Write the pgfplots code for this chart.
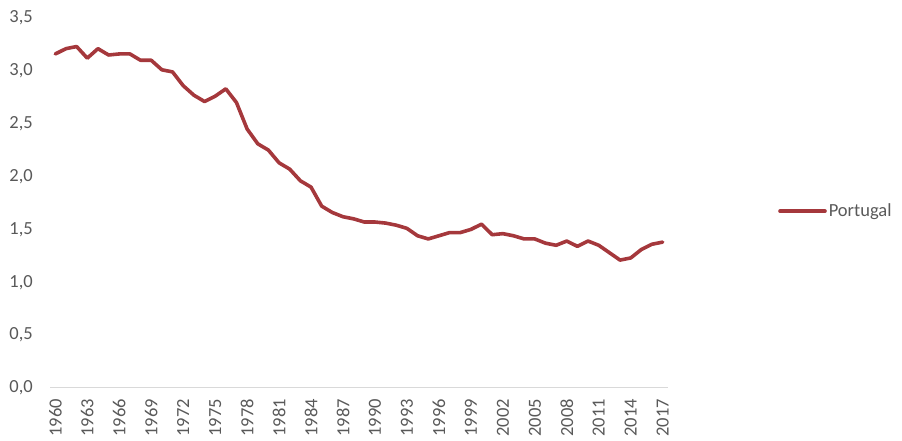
\documentclass[border=0pt]{standalone}
\usepackage{pgfplots}
\pgfplotsset{compat=1.18}
\usepackage{fontspec}
\setmainfont{Carlito}

\definecolor{linered}{HTML}{A5383C}
\definecolor{labelgray}{HTML}{595959}
\definecolor{axisgray}{HTML}{D9D9D9}

% Total fertility rate, Portugal
\pgfplotstableread{
year rate
1960 3.16
1961 3.21
1962 3.23
1963 3.12
1964 3.21
1965 3.15
1966 3.16
1967 3.16
1968 3.10
1969 3.10
1970 3.01
1971 2.99
1972 2.86
1973 2.77
1974 2.71
1975 2.76
1976 2.83
1977 2.70
1978 2.45
1979 2.31
1980 2.25
1981 2.13
1982 2.07
1983 1.96
1984 1.90
1985 1.72
1986 1.66
1987 1.62
1988 1.60
1989 1.57
1990 1.57
1991 1.56
1992 1.54
1993 1.51
1994 1.44
1995 1.41
1996 1.44
1997 1.47
1998 1.47
1999 1.50
2000 1.55
2001 1.45
2002 1.46
2003 1.44
2004 1.41
2005 1.41
2006 1.37
2007 1.35
2008 1.39
2009 1.34
2010 1.39
2011 1.35
2012 1.28
2013 1.21
2014 1.23
2015 1.31
2016 1.36
2017 1.38
}\fertility

\begin{document}
\begin{tikzpicture}
\useasboundingbox (0,0) rectangle (902bp,441bp);
\begin{axis}[
  at={(50bp,53bp)}, anchor=south west,
  scale only axis, width=618bp, height=370bp,
  xmin=1959.5, xmax=2017.5, ymin=0, ymax=3.5,
  axis x line*=bottom, axis y line*=left,
  x axis line style={draw=axisgray, line width=1bp, -},
  y axis line style={draw=none},
  major tick length=0pt,
  xtick={1960,1963,...,2017},
  ytick={0,0.5,1,1.5,2,2.5,3,3.5},
  tick label style={font=\fontsize{18.5bp}{20bp}\selectfont, text=labelgray},
  /pgf/number format/assume math mode=true,
  xticklabel style={rotate=90, anchor=east, inner sep=0pt, xshift=-11bp,
    /pgf/number format/1000 sep={}},
  yticklabel style={anchor=east, inner sep=0pt, xshift=-17bp,
    /pgf/number format/.cd, use comma, fixed, fixed zerofill, precision=1},
  legend style={at={(1,0.478)}, anchor=west, xshift=110bp, draw=none, fill=none,
    font=\fontsize{18.5bp}{20bp}\selectfont, text=labelgray, inner sep=0pt,
    /tikz/every even column/.append style={column sep=1bp}},
  legend image code/.code={\draw[#1] (0bp,0bp) -- (45bp,0bp);},
]
\addplot[linered, line width=3.6bp, line join=round, line cap=round]
  table[x=year, y=rate] {\fertility};
\addlegendentry{Portugal}
\end{axis}
\end{tikzpicture}
\end{document}
